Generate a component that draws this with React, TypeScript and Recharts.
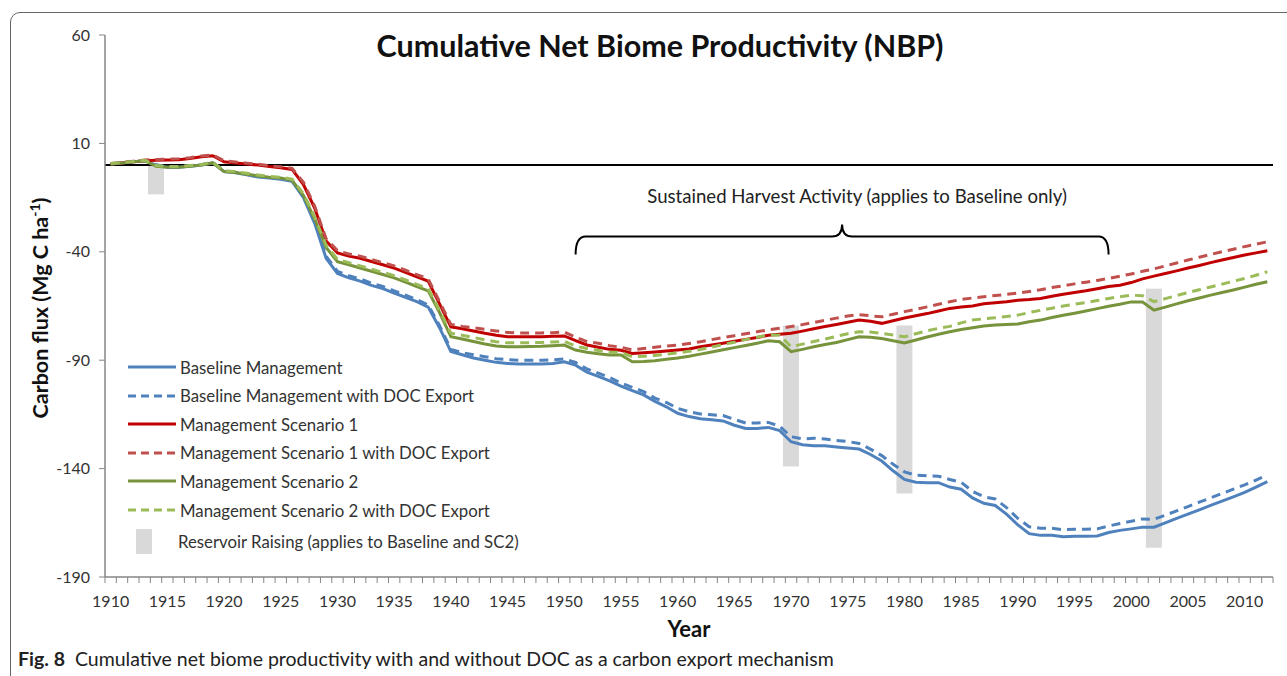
import { Bar, ComposedChart, Line, ReferenceLine, XAxis, YAxis } from 'recharts'

// categories: one per year
const years = Array.from({ length: 103 }, (_, i) => 1910 + i)
const yTicks = [60, 10, -40, -90, -140, -190]

const baseline = [
  0.5, 1, 1.5, 2, 0, -1, -1, -0.5, 0, 1,
  -3, -3.5, -4.5, -5.5, -6, -6.5, -7.5, -15, -27, -43,
  -50, -52, -53.5, -55.5, -57, -59, -61, -63, -65.5, -75,
  -86, -87.5, -89, -90, -91, -91.5, -91.8, -91.8, -91.8, -91.5,
  -90.7, -92.3, -95.5, -97.5, -99.5, -102, -104, -106, -109, -111.5,
  -114.5, -116, -117, -117.5, -118, -120, -121.5, -121.5, -121, -122.5,
  -127.6, -129, -129.5, -129.5, -130, -130.5, -131, -133.5, -136.5, -141,
  -145, -146.3, -146.5, -146.5, -148.5, -149.5, -153.5, -156, -157, -161,
  -166, -170, -170.8, -170.8, -171.4, -171.2, -171.2, -171.1, -169.5, -168.5,
  -167.8, -167, -167, -165, -163, -161, -159, -157, -155, -153,
  -151, -148.5, -146
]
const baselineDoc = [
  0.6, 1.1, 1.6, 2.1, 0.2, -0.8, -0.8, -0.3, 0.2, 1.2,
  -2.7, -3.2, -4.2, -5.2, -5.7, -6.2, -7.2, -14.5, -26, -42,
  -49, -51, -52.5, -54.5, -56, -58, -60, -62, -64.5, -74,
  -85, -86.5, -87.5, -88.4, -89.3, -89.8, -90, -90, -90, -89.8,
  -89.4, -91, -94, -96, -98, -100.5, -102.5, -104.5, -107.5, -109.5,
  -112.2, -113.8, -114.8, -115.2, -115.5, -117.3, -119, -119, -118.7, -120.5,
  -125.3, -126.3, -126, -126.3, -127, -127.5, -128.4, -131, -134, -138,
  -141.5, -143, -143.3, -143.5, -145, -146.3, -150.5, -153, -154, -158,
  -163, -166.8, -167.5, -167.5, -168.2, -168, -168, -167.8, -166.5, -165.3,
  -164.3, -163.2, -163.4, -161.5, -159.5, -157.5, -155.5, -153.5, -151.5, -149.5,
  -147.5, -145.3, -143
]
const sc1 = [
  0.5, 1, 1.5, 2, 2.2, 2.3, 2.5, 3, 3.8, 4.3,
  1.5, 1, 0.5, 0, -0.7, -1.2, -2, -9, -20, -35,
  -40.5, -42, -43, -44.5, -46, -47.5, -49.5, -51.5, -53.5, -64,
  -74.6, -75.5, -76.5, -77.6, -78.5, -79.2, -79.2, -79.2, -79.2, -79,
  -78.8, -81, -83, -84, -85, -85.4, -86.9, -86.6, -86.2, -85.8,
  -85.3, -84.8, -83.8, -83, -82.2, -81.3, -80.4, -79.5, -78.5, -78,
  -77.6, -76.6, -75.5, -74.5, -73.5, -72.5, -71.5, -72, -73, -71.8,
  -70.5, -69.5, -68.5, -67.3, -66.1, -65.5, -65, -64, -63.5, -63,
  -62.3, -62, -61.5, -60.5, -59.6, -58.8, -58, -57, -56, -55.4,
  -54.2, -52.5, -51.2, -50, -48.8, -47.5, -46.3, -45, -43.8, -42.6,
  -41.5, -40.5, -39.5
]
const sc1Doc = [
  0.7, 1.2, 1.8, 2.3, 2.6, 2.7, 2.9, 3.4, 4.2, 4.7,
  2, 1.4, 0.9, 0.4, -0.3, -0.8, -1.5, -8, -19, -34,
  -39.5, -41, -42, -43.5, -45, -46.5, -48.5, -50.5, -52.5, -63,
  -73.5, -74.4, -75, -75.8, -76.5, -77.2, -77.4, -77.4, -77.4, -77.3,
  -77, -79.4, -81.4, -82.2, -83.3, -84, -85.3, -84.6, -84, -83.5,
  -83, -82.3, -81.5, -80.5, -79.6, -78.7, -77.8, -76.9, -76, -75.3,
  -74.5, -73.6, -72.6, -71.6, -70.6, -69.6, -69, -69.5, -70, -68.8,
  -67.6, -66.5, -65.4, -64.2, -63, -62, -61.3, -60.7, -60.2, -59.6,
  -59, -58.3, -57.5, -56.5, -55.7, -54.8, -54, -53.2, -52.3, -51.3,
  -50.2, -49, -47.9, -46.5, -45.2, -43.8, -42.5, -41.2, -40, -38.8,
  -37.6, -36.5, -35.4
]
const sc2 = [
  0.5, 1, 1.5, 2, -0.5, -1, -1, -0.5, 0, 1,
  -3, -3.4, -4.2, -5, -5.6, -6, -7, -14, -25, -38,
  -44.6, -46, -47.5, -49, -50.5, -52, -54, -56, -58, -68,
  -79.2, -80.2, -81.4, -82.5, -83.4, -83.8, -83.8, -83.7, -83.6, -83.3,
  -83, -85.3, -86.3, -87, -87.6, -87.6, -90.7, -90.6, -90.2, -89.6,
  -89, -88.2, -87.2, -86.2, -85.2, -84.2, -83.2, -82.2, -81, -81.5,
  -86.1, -85, -83.8, -82.8, -81.8, -80.5, -79.2, -79.4, -80, -81,
  -82, -80.7, -79.3, -78, -76.9, -75.8, -75, -74.2, -73.8, -73.5,
  -73.3, -72.3, -71.5, -70.3, -69.3, -68.3, -67.3, -66.2, -65.1, -64.2,
  -63.1, -63.2, -66.9, -65.5, -64, -62.6, -61.3, -60, -58.8, -57.6,
  -56.3, -55, -53.8
]
const sc2Doc = [
  0.7, 1.2, 1.7, 2.2, -0.2, -0.7, -0.7, -0.2, 0.3, 1.3,
  -2.7, -3, -3.8, -4.6, -5.2, -5.6, -6.5, -13.2, -24, -37,
  -43.5, -45, -46.5, -48, -49.5, -51, -53, -55, -57, -67,
  -77.5, -78.5, -79.5, -80.6, -81.5, -82, -82, -81.9, -81.8, -81.6,
  -81.3, -83.5, -84.6, -85.5, -86.3, -86.4, -88.4, -88.2, -87.8, -87.2,
  -86.6, -85.9, -85.1, -84, -82.8, -81.7, -80.5, -79.4, -78.4, -78.5,
  -83.8, -82.6, -81.4, -80.2, -79, -77.8, -76.9, -77, -77.6, -78.4,
  -79.2, -77.8, -76.4, -75.3, -74.4, -72.8, -71.5, -70.9, -70.4, -69.8,
  -69.2, -68, -67, -66, -65, -64.2, -63.4, -62.5, -61.5, -60.7,
  -60, -60.3, -63, -61.6, -60.2, -58.8, -57.5, -56.2, -54.9, -53.6,
  -52.3, -50.8, -49.2
]

// reservoir raising events (grey bars)
const reservoirYears = [1914, 1970, 1980, 2002]
const reservoirTop = [0, -74, -74, -57]
const reservoirBottom = [-13.5, -139, -151.5, -176.5]

// harvest period brace
const harvestStart = 1951
const harvestEnd = 1998
const harvestLevel = -33

const series = [
  { key: 'baseline', name: 'Baseline Management', values: baseline, color: '#4F81BD', dash: undefined },
  { key: 'baselineDoc', name: 'Baseline Management with DOC Export', values: baselineDoc, color: '#4F81BD', dash: '9 6' },
  { key: 'sc1', name: 'Management Scenario 1', values: sc1, color: '#C00000', dash: undefined },
  { key: 'sc1Doc', name: 'Management Scenario 1 with DOC Export', values: sc1Doc, color: '#C0504D', dash: '9 6' },
  { key: 'sc2', name: 'Management Scenario 2', values: sc2, color: '#77933C', dash: undefined },
  { key: 'sc2Doc', name: 'Management Scenario 2 with DOC Export', values: sc2Doc, color: '#9BBB59', dash: '9 6' }
]

const data = years.map((year, i) => {
  const row: any = { year }
  series.forEach(s => (row[s.key] = s.values[i]))
  const r = reservoirYears.indexOf(year)
  row.reservoir = r >= 0 ? [reservoirBottom[r], reservoirTop[r]] : null
  return row
})

const W = 1287
const H = 676
const margin = { top: 35, right: 14, bottom: 69, left: 45 }
const Y_AXIS_W = 60
const X_AXIS_H = 30
const BAND = (W - margin.left - margin.right - Y_AXIS_W) / years.length
const FONT = 'Lato, "Open Sans", sans-serif'
const AXIS_GREY = '#868686'
const RES_W = 16

const YearTick = (props: any) => {
  const { x, y, payload, index } = props
  const half = BAND / 2
  return (
    <g>
      <line x1={x - half} x2={x - half} y1={y} y2={y + 6} stroke={AXIS_GREY} />
      {index === years.length - 1 && (
        <line x1={x + half} x2={x + half} y1={y} y2={y + 6} stroke={AXIS_GREY} />
      )}
      {payload.value % 5 === 0 && (
        <text x={x} y={y + 30} textAnchor="middle" fontSize={16} fill="#333" fontFamily={FONT}>
          {payload.value}
        </text>
      )}
    </g>
  )
}

// the grey event bars are a bit wider than one year band
const ReservoirBar = (p: any) => {
  if (p.height == null || p.width == null) return null
  const cx = p.x + p.width / 2
  return <rect x={cx - RES_W / 2} y={p.y} width={RES_W} height={p.height} fill="#D9D9D9" />
}

const Brace = (p: any) => {
  const { x1, x2, y1 } = p
  const mid = (x1 + x2) / 2
  const r = 10
  const d = `M${x1},${y1 + 18} Q${x1},${y1} ${x1 + r},${y1} L${mid - r},${y1} Q${mid},${y1} ${mid},${y1 - 12} Q${mid},${y1} ${mid + r},${y1} L${x2 - r},${y1} Q${x2},${y1} ${x2},${y1 + 18}`
  return (
    <g>
      <path d={d} fill="none" stroke="#000" strokeWidth={2} />
      <text x={mid + 15} y={y1 - 34} textAnchor="middle" fontSize={18.6} fill="#222" fontFamily={FONT}>
        Sustained Harvest Activity (applies to Baseline only)
      </text>
    </g>
  )
}

const YLabel = (props: any) => {
  const vb = props.viewBox
  const cx = vb.x + 3
  const cy = vb.y + vb.height / 2 + 2
  return (
    <text
      x={cx}
      y={cy}
      transform={`rotate(-90 ${cx} ${cy})`}
      textAnchor="middle"
      fontSize={21.5}
      fontWeight="bold"
      fill="#111"
      fontFamily={FONT}
    >
      <tspan>Carbon flux (Mg C ha</tspan>
      <tspan dy={-8} fontSize={14}>-1</tspan>
      <tspan dy={8}>)</tspan>
    </text>
  )
}

const legendTop = 357
const legendStep = 28.6

export default function App() {
  return (
    <div
      style={{
        position: 'absolute',
        left: 0,
        top: 0,
        width: W,
        height: H,
        overflow: 'hidden',
        background: '#fff',
        fontFamily: FONT
      }}
    >
      <div
        style={{
          position: 'absolute',
          left: 10,
          top: 12,
          width: 1300,
          height: 720,
          border: '1.5px solid #666',
          borderRadius: 10
        }}
      />
      <ComposedChart width={W} height={H} data={data} margin={margin}>
        <XAxis
          dataKey="year"
          type="category"
          interval={0}
          height={X_AXIS_H}
          tickLine={false}
          tickSize={0}
          tickMargin={0}
          tick={<YearTick />}
          axisLine={{ stroke: AXIS_GREY, strokeWidth: 1.5 }}
        />
        <YAxis
          type="number"
          domain={[-190, 60]}
          ticks={yTicks}
          interval={0}
          width={Y_AXIS_W}
          tickSize={6}
          tickMargin={9}
          tick={{ fontSize: 16, fill: '#333', fontFamily: FONT }}
          tickLine={{ stroke: AXIS_GREY }}
          axisLine={{ stroke: AXIS_GREY, strokeWidth: 1.5 }}
          label={{ content: <YLabel /> }}
        />
        <ReferenceLine y={0} stroke="#000" strokeWidth={2} />
        <ReferenceLine
          segment={[
            { x: harvestStart, y: harvestLevel },
            { x: harvestEnd, y: harvestLevel }
          ]}
          shape={Brace}
        />
        <Bar dataKey="reservoir" fill="#D9D9D9" shape={ReservoirBar} isAnimationActive={false} />
        {series.map(s => (
          <Line
            key={s.key}
            type="linear"
            dataKey={s.key}
            name={s.name}
            stroke={s.color}
            strokeWidth={3}
            strokeDasharray={s.dash}
            dot={false}
            activeDot={false}
            isAnimationActive={false}
          />
        ))}
      </ComposedChart>

      <div
        style={{
          position: 'absolute',
          left: 0,
          width: 1320,
          top: 27,
          textAlign: 'center',
          fontSize: 30.5,
          fontWeight: 'bold',
          color: '#111'
        }}
      >
        Cumulative Net Biome Productivity (NBP)
      </div>

      {series.map((s, i) => (
        <div
          key={s.key}
          style={{
            position: 'absolute',
            left: 127,
            top: legendTop + i * legendStep,
            height: 20,
            display: 'flex',
            alignItems: 'center',
            fontSize: 16.8,
            color: '#333',
            whiteSpace: 'nowrap'
          }}
        >
          <svg width={50} height={6} style={{ marginRight: 3 }}>
            <line x1={1} x2={49} y1={3} y2={3} stroke={s.color} strokeWidth={3} strokeDasharray={s.dash ? '8 5' : undefined} />
          </svg>
          {s.name}
        </div>
      ))}
      <div
        style={{
          position: 'absolute',
          left: 127,
          top: legendTop + 6 * legendStep,
          height: 26,
          display: 'flex',
          alignItems: 'center',
          fontSize: 16.8,
          color: '#333',
          whiteSpace: 'nowrap'
        }}
      >
        <div style={{ width: 16, height: 25, background: '#D9D9D9', marginLeft: 9, marginRight: 26 }} />
        Reservoir Raising (applies to Baseline and SC2)
      </div>

      <div
        style={{
          position: 'absolute',
          left: 0,
          width: 1378,
          top: 615,
          textAlign: 'center',
          fontSize: 22,
          fontWeight: 'bold',
          color: '#111'
        }}
      >
        Year
      </div>

      <div style={{ position: 'absolute', left: 18, top: 647, fontSize: 19.5, color: '#222', whiteSpace: 'nowrap' }}>
        <b>Fig. 8</b>&nbsp;&nbsp;Cumulative net biome productivity with and without DOC as a carbon export mechanism
      </div>
    </div>
  )
}
